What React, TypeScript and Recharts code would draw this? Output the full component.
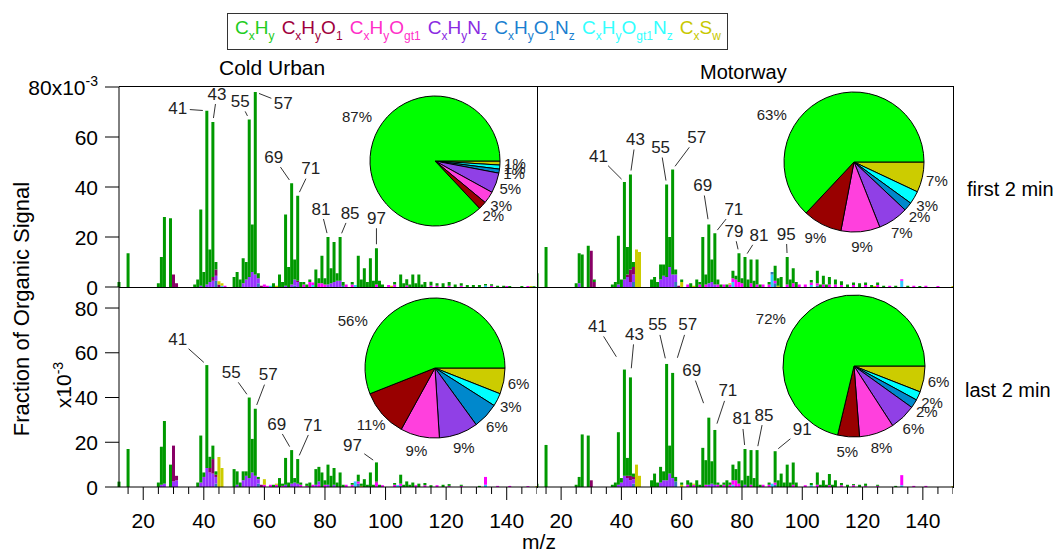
import React from 'react';
import { BarChart, Bar, XAxis, YAxis, LabelList, PieChart, Pie, Cell } from 'recharts';

const FONT = '"Liberation Sans", Arial, Helvetica, sans-serif';

type Pair = [number, number];
type Fam = 'CxHy' | 'CxHyO1' | 'CxHyOgt1' | 'CxHyNz' | 'CxHyO1Nz' | 'CxHyOgt1Nz' | 'CxSw';

// ---------- categories / ticks ----------
const stackOrder: Fam[] = ['CxHyOgt1Nz', 'CxHyO1Nz', 'CxHyOgt1', 'CxHyNz', 'CxHyO1', 'CxSw', 'CxHy'];
const legendOrder: Fam[] = ['CxHy', 'CxHyO1', 'CxHyOgt1', 'CxHyNz', 'CxHyO1Nz', 'CxHyOgt1Nz', 'CxSw'];
const pieOrder: Fam[] = ['CxSw', 'CxHyOgt1Nz', 'CxHyO1Nz', 'CxHyNz', 'CxHyOgt1', 'CxHyO1', 'CxHy'];
const mzDomain: [number, number] = [12, 150];
const mzTicks = [15, 20, 25, 30, 35, 40, 45, 50, 55, 60, 65, 70, 75, 80, 85, 90, 95, 100, 105, 110, 115, 120, 125, 130, 135, 140, 145, 150];
const yTicks = [0, 20, 40, 60, 80];

// ---------- Cold Urban, first 2 min (x10^-3) ----------
const coldFirstCxHy: Pair[] = [[12,2],[15,13.5],[25,1.5],[26,12],[27,28],[29,27.5],[37,1],[38,3],[39,30.5],[40,6],[41,69.5],[42,13],[43,62],[44,3],[50,4],[51,6],[52,3],[53,10],[54,7],[55,63],[56,19],[57,73],[58,2],[63,1.5],[65,5],[66,2],[67,28.5],[68,8],[69,40.5],[70,8],[71,34],[72,2],[73,1],[74,1],[75,1],[77,7],[78,2],[79,11],[80,2.5],[81,19],[82,6],[83,16],[84,3],[85,17.5],[86,1.5],[89,1],[91,12.5],[92,3],[93,7.5],[94,2],[95,11.5],[96,2.5],[97,14.5],[98,2.5],[99,1],[103,1],[105,5],[106,1.5],[107,2.5],[108,1],[109,5],[110,1.5],[111,5],[112,1],[113,2],[115,1.5],[117,1],[119,1.5],[121,1.5],[123,1],[125,1],[127,0.8],[129,0.8],[131,0.8],[133,0.6],[135,0.6],[137,0.5],[139,0.5],[141,0.4],[145,0.4],[149,0.3]];
const coldFirstCxHyNz: Pair[] = [[39,0.5],[41,1],[42,2],[43,2.5],[44,2],[53,1.5],[54,3],[55,4],[56,6],[57,5],[58,2],[67,0.5],[69,1],[70,2.5],[71,2],[81,1],[82,1.5],[83,2],[84,2.5],[85,2.5]];
const coldFirstCxHyO1: Pair[] = [[30,5],[31,1.5],[43,1.5],[44,2.5],[45,1],[59,0.5],[71,0.5]];
const coldFirstCxHyOgt1: Pair[] = [[47,0.5],[60,1],[61,0.5],[73,1],[75,2],[76,1],[78,1.5],[79,1.5],[80,1],[87,1],[89,1],[97,1],[101,0.8],[103,1],[107,0.6],[115,0.6],[117,0.5],[121,0.5],[125,0.5],[135,0.5],[140,0.4],[147,0.4]];
const coldFirstCxHyO1Nz: Pair[] = [[44,2.5],[58,1.5],[70,0.5],[86,0.5]];
const coldFirstCxHyOgt1Nz: Pair[] = [[46,0.5],[62,0.5],[76,0.8],[90,0.8],[133,0.6]];
const coldFirstCxSw: Pair[] = [[45,1.3],[46,1],[64,0.5],[102,0.5],[148,0.4]];

// ---------- Motorway, first 2 min ----------
const motorFirstCxHy: Pair[] = [[12,5.5],[15,16],[25,1.5],[26,12],[27,13],[29,16.5],[31,1],[37,1],[38,2],[39,19.5],[40,3],[41,39],[42,11],[43,38],[44,2],[50,3],[51,4],[52,2],[53,6],[54,4.5],[55,37],[56,12],[57,42],[58,2],[60,1],[63,1.5],[65,3],[66,1],[67,20],[68,4],[69,23.5],[70,9],[71,20.5],[72,2],[73,1],[75,1],[77,3],[78,1.5],[79,11.5],[80,2],[81,12],[82,3],[83,9.5],[84,2.5],[85,10],[86,1],[89,1],[91,6],[92,3],[93,4],[95,11],[96,3],[97,6],[98,2],[103,1],[105,5],[106,1],[107,3.5],[108,1],[109,3],[111,2],[113,1.5],[115,1],[117,1],[119,1.5],[121,1],[123,0.8],[125,1],[127,0.5],[131,0.5],[135,0.5],[139,0.4]];
const motorFirstCxHyNz: Pair[] = [[26,1.5],[39,1],[41,3],[42,4],[43,2],[44,3],[53,3],[54,4.5],[55,4],[56,8],[57,5],[58,3],[69,1.5],[70,2],[71,1]];
const motorFirstCxHyO1: Pair[] = [[30,14.5],[31,2],[42,1],[43,5],[44,3],[59,0.5]];
const motorFirstCxHyOgt1: Pair[] = [[62,1],[66,1],[68,1],[72,1],[74,1],[76,1],[77,1.5],[78,3],[79,2],[80,1.5],[83,1.5],[85,1],[87,1],[89,1],[91,1],[95,1],[97,1.5],[99,1],[101,1],[103,1],[105,1],[107,1],[109,1],[111,1],[113,0.8],[117,0.8],[121,0.8],[125,0.8],[129,0.5],[133,0.6],[137,0.5],[141,0.5],[145,0.4]];
const motorFirstCxHyO1Nz: Pair[] = [[44,2],[58,2],[90,1],[91,1.5],[105,0.5]];
const motorFirstCxHyOgt1Nz: Pair[] = [[77,2],[90,5],[103,0.8],[133,2.5]];
const motorFirstCxSw: Pair[] = [[45,15],[46,14],[60,2],[64,0.5],[76,0.5],[92,0.5],[124,0.4],[150,0.4]];

// ---------- Cold Urban, last 2 min ----------
const coldLastCxHy: Pair[] = [[12,2.4],[15,17],[25,2],[26,17],[27,28],[29,10],[38,2],[39,21],[40,2],[41,46],[42,5],[43,6],[44,1.5],[50,8],[51,6],[52,2],[53,4],[54,2],[55,36],[56,15],[57,30],[58,1],[63,1],[65,4],[66,1],[67,12],[68,2],[69,15],[70,2],[71,11],[72,1],[74,1],[75,2],[77,7],[78,6.5],[79,6.5],[80,2],[81,9],[82,5],[83,7.5],[84,2],[85,6.5],[86,1],[89,0.8],[91,3],[92,1],[93,3.5],[94,1],[95,6.5],[96,1],[97,8.5],[98,1],[103,0.8],[105,4],[106,1],[107,2.5],[108,1],[109,2],[111,1.5],[113,1],[115,0.8],[119,1],[121,0.8],[125,0.5],[131,0.5]];
const coldLastCxHyNz: Pair[] = [[26,1],[27,1.5],[30,2.5],[31,3],[39,2],[40,4.5],[41,8.5],[42,6.5],[43,6],[44,3],[51,1],[53,3],[54,5],[55,4],[56,6.5],[57,5],[58,2],[67,1],[69,1.5],[70,2],[71,1.5],[77,1],[78,1.5],[81,1],[83,1]];
const coldLastCxHyO1: Pair[] = [[30,16],[31,2],[42,2],[43,6.5],[44,1],[59,1],[97,0.5]];
const coldLastCxHyOgt1: Pair[] = [[60,1],[62,1],[64,1],[66,0.5],[72,1],[74,0.5],[76,1],[78,1],[80,1],[87,1],[89,1],[91,1],[97,2],[99,0.8],[103,1],[105,1],[110,0.8],[113,0.8],[117,0.8],[121,0.5],[125,0.5],[133,3.5],[137,0.5],[141,0.5],[147,0.4]];
const coldLastCxHyO1Nz: Pair[] = [[44,1.5],[58,1.5],[91,1.5],[105,0.5]];
const coldLastCxHyOgt1Nz: Pair[] = [[90,2.5],[104,0.8],[133,1]];
const coldLastCxSw: Pair[] = [[45,13.4],[46,8.5],[60,2.5],[64,0.5],[92,0.5],[150,0.4]];

// ---------- Motorway, last 2 min ----------
const motorLastCxHy: Pair[] = [[12,1.5],[15,18.8],[25,1],[26,4.5],[27,23.5],[29,23],[37,1],[38,2],[39,23.5],[40,2],[41,47.5],[42,8],[43,44],[44,1.5],[50,3],[51,6],[52,2],[53,7],[54,4],[55,52],[56,12.5],[57,47],[58,2],[60,1],[62,2],[63,2],[65,3],[66,1],[67,17.5],[68,11],[69,30],[70,10],[71,24.5],[72,1],[73,1],[74,1],[75,3],[76,1],[77,7],[78,5],[79,10],[80,3],[81,16],[82,5],[83,15.5],[84,4],[85,16.5],[86,1],[89,1],[91,14],[92,3],[93,6],[94,2],[95,10],[96,2],[97,10],[98,2],[103,1],[105,5.5],[106,1],[107,3],[108,1],[109,5],[110,1],[111,3],[113,1],[115,1],[117,0.5],[119,1],[121,1],[125,0.5],[131,0.5]];
const motorLastCxHyNz: Pair[] = [[39,1],[40,2],[41,5],[42,4],[43,3],[44,2],[53,2],[54,3],[55,3],[56,6],[57,4],[69,1],[70,1.5],[71,1],[81,1]];
const motorLastCxHyO1: Pair[] = [[30,3],[42,1],[43,2],[44,1]];
const motorLastCxHyOgt1: Pair[] = [[62,1],[64,1],[68,1],[72,1],[74,1],[76,1],[77,2],[78,3],[79,1.5],[83,1],[87,1],[89,1],[91,1],[97,1],[101,0.8],[105,1],[109,0.8],[113,0.8],[117,0.8],[121,0.5],[125,0.5],[133,4.5],[137,0.5],[141,0.5]];
const motorLastCxHyO1Nz: Pair[] = [[44,1.5],[58,2.5],[91,1]];
const motorLastCxHyOgt1Nz: Pair[] = [[77,1],[90,1.5],[103,0.8],[133,0.8]];
const motorLastCxSw: Pair[] = [[45,10],[46,5],[60,1],[64,0.5],[150,0.4]];

// ---------- pie percentages, in pieOrder ----------
const coldFirstPie = [1, 1, 1, 5, 3, 2, 87];
const motorFirstPie = [7, 3, 2, 7, 9, 9, 63];
const coldLastPie = [6, 3, 6, 9, 9, 11, 56];
const motorLastPie = [6, 2, 2, 6, 8, 5, 72];

// ---------- labelled peaks: [m/z, label dx, label dy] ----------
const coldFirstPeaks: [number, number, number][] = [[41,-29,-2],[43,4,-28],[55,-9,-18],[57,28,11],[69,-18,-26],[71,13,-27],[81,-7,-28],[85,10,-24],[97,0,-30]];
const motorFirstPeaks: [number, number, number][] = [[41,-26,-26],[43,5,-35],[55,-6,-37],[57,24,-32],[69,-6,-39],[71,19,-24],[79,-5,-22],[81,14,-22],[95,-1,-23]];
const coldLastPeaks: [number, number, number][] = [[41,-29,-26],[55,-18,-25],[57,13,-34],[69,-15,-26],[71,15,-34],[97,-24,-17]];
const motorLastPeaks: [number, number, number][] = [[41,-27,-43],[43,4,-43],[55,-9,-39],[57,15,-48],[69,-17,-47],[71,13,-39],[81,-3,-30],[85,7,-35],[91,27,-22]];

// ---------- colours ----------
const barColors: Record<Fam, string> = {
  CxHy: '#009900', CxHyO1: '#880066', CxHyOgt1: '#ff00ff', CxHyNz: '#9933ff',
  CxHyO1Nz: '#3377bb', CxHyOgt1Nz: '#33ccff', CxSw: '#cccc00',
};
const pieColors: Record<Fam, string> = {
  CxHy: '#00ff00', CxHyO1: '#990000', CxHyOgt1: '#ff40dd', CxHyNz: '#9040e6',
  CxHyO1Nz: '#0088cc', CxHyOgt1Nz: '#00ffff', CxSw: '#cccc00',
};
const legendColors: Record<Fam, string> = {
  CxHy: '#22cc22', CxHyO1: '#a0003c', CxHyOgt1: '#ff2fc8', CxHyNz: '#8a2be2',
  CxHyO1Nz: '#1a7fd0', CxHyOgt1Nz: '#33ffff', CxSw: '#c8c800',
};
const legendParts: Record<Fam, [string, boolean][]> = {
  CxHy: [['C', false], ['x', true], ['H', false], ['y', true]],
  CxHyO1: [['C', false], ['x', true], ['H', false], ['y', true], ['O', false], ['1', true]],
  CxHyOgt1: [['C', false], ['x', true], ['H', false], ['y', true], ['O', false], ['gt1', true]],
  CxHyNz: [['C', false], ['x', true], ['H', false], ['y', true], ['N', false], ['z', true]],
  CxHyO1Nz: [['C', false], ['x', true], ['H', false], ['y', true], ['O', false], ['1', true], ['N', false], ['z', true]],
  CxHyOgt1Nz: [['C', false], ['x', true], ['H', false], ['y', true], ['O', false], ['gt1', true], ['N', false], ['z', true]],
  CxSw: [['C', false], ['x', true], ['S', false], ['w', true]],
};

function buildRows(series: Record<Fam, Pair[]>) {
  const map = new Map<number, any>();
  stackOrder.forEach((f) => {
    series[f].forEach(([mz, v]) => {
      if (!map.has(mz)) {
        const row: any = { mz };
        stackOrder.forEach((g) => (row[g] = 0));
        map.set(mz, row);
      }
      map.get(mz)[f] = v;
    });
  });
  return Array.from(map.values()).sort((a, b) => a.mz - b.mz);
}

const coldFirstRows = buildRows({ CxHy: coldFirstCxHy, CxHyO1: coldFirstCxHyO1, CxHyOgt1: coldFirstCxHyOgt1, CxHyNz: coldFirstCxHyNz, CxHyO1Nz: coldFirstCxHyO1Nz, CxHyOgt1Nz: coldFirstCxHyOgt1Nz, CxSw: coldFirstCxSw });
const motorFirstRows = buildRows({ CxHy: motorFirstCxHy, CxHyO1: motorFirstCxHyO1, CxHyOgt1: motorFirstCxHyOgt1, CxHyNz: motorFirstCxHyNz, CxHyO1Nz: motorFirstCxHyO1Nz, CxHyOgt1Nz: motorFirstCxHyOgt1Nz, CxSw: motorFirstCxSw });
const coldLastRows = buildRows({ CxHy: coldLastCxHy, CxHyO1: coldLastCxHyO1, CxHyOgt1: coldLastCxHyOgt1, CxHyNz: coldLastCxHyNz, CxHyO1Nz: coldLastCxHyO1Nz, CxHyOgt1Nz: coldLastCxHyOgt1Nz, CxSw: coldLastCxSw });
const motorLastRows = buildRows({ CxHy: motorLastCxHy, CxHyO1: motorLastCxHyO1, CxHyOgt1: motorLastCxHyOgt1, CxHyNz: motorLastCxHyNz, CxHyO1Nz: motorLastCxHyO1Nz, CxHyOgt1Nz: motorLastCxHyOgt1Nz, CxSw: motorLastCxSw });

// ---------- ticks ----------
function XTick(props: any) {
  const { x, y, payload } = props;
  const v = payload.value;
  const major = v % 20 === 0;
  return (
    <g>
      <line x1={x} x2={x} y1={y} y2={y + (major ? 13 : 7)} stroke="#000" strokeWidth={1} />
      {major && (
        <text x={x} y={y + 41} textAnchor="middle" fontSize={21} fontFamily={FONT} fill="#000">{v}</text>
      )}
    </g>
  );
}

function YTick(props: any) {
  const { x, y, payload, exp } = props;
  const v = payload.value;
  return (
    <text x={x} y={y} dy="0.36em" textAnchor="end" fontSize={21} fontFamily={FONT} fill="#000">
      {String(v)}
      {exp && v === 80 ? <tspan>x10</tspan> : null}
      {exp && v === 80 ? <tspan dy="-0.6em" fontSize={14}>-3</tspan> : null}
    </text>
  );
}

const makePeakLabel = (peaks: [number, number, number][]) => (props: any) => {
  const vb = props.viewBox || {};
  const x = Number(props.x ?? vb.x);
  const y = Number(props.y ?? vb.y);
  const w = Number(props.width ?? vb.width ?? 3);
  const mz = Number(props.value);
  const p = peaks.find((q) => q[0] === mz);
  if (!p || !isFinite(x) || !isFinite(y)) return null;
  const bx = x + w / 2;
  const by = y;
  const tx = bx + p[1];
  const ty = by + p[2];
  const dx = bx - tx;
  const dy = by - ty;
  const len = Math.hypot(dx, dy) || 1;
  const ux = dx / len;
  const uy = dy / len;
  const exit = Math.min(11 / Math.max(Math.abs(ux), 1e-6), 9 / Math.max(Math.abs(uy), 1e-6)) + 1;
  const endDist = Math.max(exit + 5, Math.min(len - 4, exit + 24));
  return (
    <g>
      <line x1={tx + ux * exit} y1={ty + uy * exit} x2={tx + ux * endDist} y2={ty + uy * endDist} stroke="#333" strokeWidth={1} />
      <text x={tx} y={ty} textAnchor="middle" dominantBaseline="central" fontSize={17} fontFamily={FONT} fill="#222">{mz}</text>
    </g>
  );
};

function Spectrum(props: any) {
  const { rows, peaks, left, top, width, height, margin, yMax, showY, showX, exp } = props;
  return (
    <div style={{ position: 'absolute', left, top }}>
      <BarChart width={width} height={height} data={rows} margin={margin} barGap={0}>
        <XAxis
          type="number" dataKey="mz" domain={mzDomain} ticks={mzTicks} interval={0}
          hide={!showX} height={66} tickLine={false} tickSize={0} tickMargin={0}
          axisLine={{ stroke: '#000', strokeWidth: 1 }} tick={<XTick />}
        />
        <YAxis
          type="number" domain={[0, yMax]} ticks={yTicks} interval={0} hide={!showY} width={119}
          tickSize={14} tickMargin={7} axisLine={{ stroke: '#000', strokeWidth: 1 }}
          tickLine={{ stroke: '#000', strokeWidth: 1 }} tick={<YTick exp={exp} />}
        />
        {stackOrder.map((f) => (
          <Bar key={f} dataKey={f} stackId="s" fill={barColors[f]} barSize={3} isAnimationActive={false}>
            {f === 'CxHy' ? <LabelList dataKey="mz" content={makePeakLabel(peaks)} /> : null}
          </Bar>
        ))}
      </BarChart>
    </div>
  );
}

const renderPieLabel = (props: any) => {
  const { cx, cy, midAngle, outerRadius, value } = props;
  let ang = midAngle;
  let r = outerRadius + 15;
  if (value > 50) {
    ang = 150;
    r = outerRadius + 25;
  }
  const rad = Math.PI / 180;
  const x = cx + r * Math.cos(-ang * rad);
  const y = cy + r * Math.sin(-ang * rad);
  return (
    <text x={x} y={y} textAnchor="middle" dominantBaseline="central" fontSize={15} fontFamily={FONT} fill="#222">
      {value}%
    </text>
  );
};

function FamilyPie(props: any) {
  const { values, cx, cy, r } = props;
  const data = pieOrder.map((f, i) => ({ name: f, value: values[i] }));
  const size = 300;
  return (
    <div style={{ position: 'absolute', left: cx - size / 2, top: cy - size / 2 }}>
      <PieChart width={size} height={size} margin={{ top: 0, right: 0, bottom: 0, left: 0 }}>
        <Pie
          data={data} dataKey="value" nameKey="name" cx={size / 2} cy={size / 2} outerRadius={r}
          startAngle={0} endAngle={-360} stroke="#000" strokeWidth={1}
          label={renderPieLabel} labelLine={false} isAnimationActive={false}
        >
          {data.map((d) => (
            <Cell key={d.name} fill={pieColors[d.name as Fam]} />
          ))}
        </Pie>
      </PieChart>
    </div>
  );
}

function Rule(props: any) {
  const { left, top, width, height } = props;
  return <div style={{ position: 'absolute', left, top, width, height, background: '#000' }} />;
}

export default function App() {
  const topMargin = { top: 17, right: 0, bottom: 10, left: 0 };
  const botMargin = { top: 0, right: 0, bottom: 0, left: 0 };
  return (
    <div style={{ position: 'absolute', left: 0, top: 0, width: 1063, height: 553, background: '#fff', overflow: 'hidden', fontFamily: FONT }}>
      <Spectrum rows={coldFirstRows} peaks={coldFirstPeaks} left={0} top={70} width={537} height={227} margin={topMargin} yMax={80} showY showX={false} exp />
      <Spectrum rows={motorFirstRows} peaks={motorFirstPeaks} left={537} top={70} width={416} height={227} margin={topMargin} yMax={80} showY={false} showX={false} />
      <Spectrum rows={coldLastRows} peaks={coldLastPeaks} left={0} top={287} width={537} height={266} margin={botMargin} yMax={89.4} showY showX />
      <Spectrum rows={motorLastRows} peaks={motorLastPeaks} left={537} top={287} width={416} height={266} margin={botMargin} yMax={89.4} showY={false} showX />

      <FamilyPie values={coldFirstPie} cx={435} cy={161} r={65} />
      <FamilyPie values={motorFirstPie} cx={854} cy={162} r={70} />
      <FamilyPie values={coldLastPie} cx={435} cy={368} r={70} />
      <FamilyPie values={motorLastPie} cx={854} cy={366} r={71} />

      <Rule left={119} top={86} width={835} height={1} />
      <Rule left={953} top={86} width={1} height={402} />
      <Rule left={537} top={86} width={1} height={402} />
      <Rule left={119} top={287} width={835} height={1} />

      <svg width={1063} height={553} style={{ position: 'absolute', left: 0, top: 0, pointerEvents: 'none' }}>
        <text x={219} y={75} fontSize={21} fontFamily={FONT} fill="#000">Cold Urban</text>
        <text x={700} y={79} fontSize={20} fontFamily={FONT} fill="#000">Motorway</text>
        <text x={967} y={196} fontSize={20} fontFamily={FONT} fill="#000">first 2 min</text>
        <text x={965} y={397} fontSize={20} fontFamily={FONT} fill="#000">last 2 min</text>
        <text x={539} y={549} fontSize={21} textAnchor="middle" fontFamily={FONT} fill="#000">m/z</text>
        <text x={29} y={309} fontSize={22} textAnchor="middle" fontFamily={FONT} fill="#000" transform="rotate(-90 29 309)">Fraction of Organic Signal</text>
        <text x={71} y={385} fontSize={21} textAnchor="middle" fontFamily={FONT} fill="#000" transform="rotate(-90 71 385)">
          <tspan>x10</tspan>
          <tspan dy="-0.6em" fontSize={14}>-3</tspan>
        </text>
      </svg>

      <div
        style={{
          position: 'absolute', left: 227, top: 13, width: 501, height: 37, boxSizing: 'border-box',
          border: '1.5px solid #333', display: 'flex', alignItems: 'flex-start', justifyContent: 'space-between',
          padding: '4px 6px 0 7px', fontSize: 19, lineHeight: 1, whiteSpace: 'nowrap', fontFamily: FONT,
        }}
      >
        {legendOrder.map((f) => (
          <span key={f} style={{ color: legendColors[f] }}>
            {legendParts[f].map(([t, sub], i) => (
              <span key={i} style={sub ? { fontSize: 12, position: 'relative', top: 6 } : undefined}>{t}</span>
            ))}
          </span>
        ))}
      </div>
    </div>
  );
}
